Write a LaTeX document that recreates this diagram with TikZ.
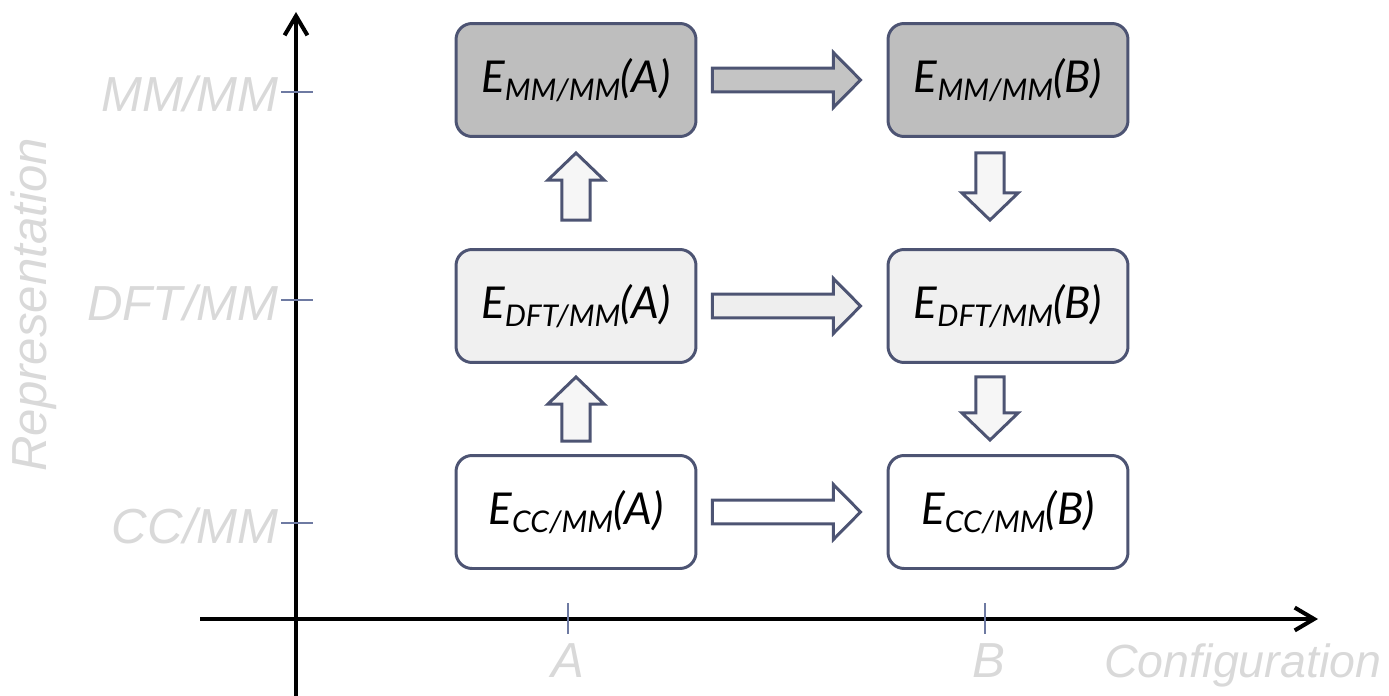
\documentclass[tikz,border=0pt]{standalone}
\usepackage{fontspec}
\setmainfont{Liberation Sans}
\newfontfamily\boxfont{Lato}
\usetikzlibrary{arrows.meta,calc}

\definecolor{edge}{RGB}{77,84,115}
\definecolor{tickc}{RGB}{110,122,162}
\definecolor{axlabel}{RGB}{217,217,217}
\definecolor{fillmm}{RGB}{190,190,190}
\definecolor{filldft}{RGB}{240,240,240}
\definecolor{arrmm}{RGB}{196,196,196}
\definecolor{arrdft}{RGB}{238,238,238}
\definecolor{arrv}{RGB}{246,246,246}

% lowered, smaller subscript for the energy labels
\newcommand\lowsub[1]{\raisebox{-4.5pt}{\fontsize{17}{19}\selectfont #1}}

% block-arrow dimensions: shaft half width, head half width, head length
\def\hsw{6.8pt}\def\hhw{15.6pt}\def\hhl{15.4pt}
\def\vsw{8pt}\def\vhw{16pt}\def\vhl{15.4pt}

% block arrow pointing right, from #1 (tail) to #2 (tip)
\newcommand\blockright[3]{%
  \draw[blk,#3] let \p1=(#1), \p2=(#2) in
    (\x1,\y1-\hsw) -- (\x2-\hhl,\y1-\hsw) -- (\x2-\hhl,\y1-\hhw) -- (\x2,\y1)
    -- (\x2-\hhl,\y1+\hhw) -- (\x2-\hhl,\y1+\hsw) -- (\x1,\y1+\hsw) -- cycle;}
% block arrow pointing up, from #1 (tail) to #2 (tip)
\newcommand\blockup[3]{%
  \draw[blk,#3] let \p1=(#1), \p2=(#2) in
    (\x1-\vsw,\y1) -- (\x1-\vsw,\y2-\vhl) -- (\x1-\vhw,\y2-\vhl) -- (\x1,\y2)
    -- (\x1+\vhw,\y2-\vhl) -- (\x1+\vsw,\y2-\vhl) -- (\x1+\vsw,\y1) -- cycle;}
% block arrow pointing down, from #1 (tail) to #2 (tip)
\newcommand\blockdown[3]{%
  \draw[blk,#3] let \p1=(#1), \p2=(#2) in
    (\x1-\vsw,\y1) -- (\x1-\vsw,\y2+\vhl) -- (\x1-\vhw,\y2+\vhl) -- (\x1,\y2)
    -- (\x1+\vhw,\y2+\vhl) -- (\x1+\vsw,\y2+\vhl) -- (\x1+\vsw,\y1) -- cycle;}

\begin{document}
\begin{tikzpicture}[x=0.02cm,y=-0.02cm,
  energy/.style={draw=edge,line width=1.7pt,rounded corners=0.32cm,
    minimum width=4.8cm,minimum height=2.26cm,inner sep=0pt,
    font=\boxfont\fontsize{25}{29}\selectfont\itshape},
  blk/.style={draw=edge,line width=1.7pt,line join=miter},
  axis/.style={line width=2.3pt,-{Straight Barb[length=11pt,width=13pt]}},
  tickmark/.style={draw=tickc,line width=1.2pt},
  axlab/.style={text=axlabel,font=\fontsize{28}{32}\selectfont\itshape,inner sep=0pt}]

\useasboundingbox (0,0) rectangle (1389,696);

% axes
\coordinate (ybot) at (296,700);
\coordinate (ytop) at (296,12);
\coordinate (xleft) at (200,619);
\coordinate (xright) at (1318,619);
\draw[axis] (ybot) -- (ytop);
\draw[axis] (xleft) -- (xright);

% ticks on the representation axis
\draw[tickmark] (281,92) -- (313,92);
\draw[tickmark] (281,300) -- (313,300);
\draw[tickmark] (281,523) -- (313,523);
% ticks on the configuration axis
\draw[tickmark] (568,603) -- (568,634);
\draw[tickmark] (985,603) -- (985,634);

% axis labels
\node[axlab,anchor=base east] (lmm) at (279,112) {MM/MM};
\node[axlab,anchor=base east] (ldft) at (279,320) {DFT/MM};
\node[axlab,anchor=base east] (lcc) at (279,543) {CC/MM};
\node[axlab,rotate=90] (lrep) at (34,305) {Representation};
\node[axlab,anchor=base] (la) at (568,677) {A};
\node[axlab,anchor=base] (lb) at (989,677) {B};
\node[axlab,anchor=base west,font=\fontsize{26.5}{30}\selectfont\itshape] (lconf) at (1104,677) {Configuration};

% energy boxes
\node[energy,fill=fillmm]  (mmA)  at (576,80)  {E\lowsub{MM/MM}(A)};
\node[energy,fill=fillmm]  (mmB)  at (1008,80) {E\lowsub{MM/MM}(B)};
\node[energy,fill=filldft] (dftA) at (576,306) {E\lowsub{DFT/MM}(A)};
\node[energy,fill=filldft] (dftB) at (1008,306) {E\lowsub{DFT/MM}(B)};
\node[energy,fill=white]   (ccA)  at (576,512) {E\lowsub{CC/MM}(A)};
\node[energy,fill=white]   (ccB)  at (1008,512) {E\lowsub{CC/MM}(B)};

% horizontal block arrows A -> B
\blockright{[xshift=0.3cm]mmA.east}{[xshift=-0.52cm]mmB.west}{fill=arrmm}
\blockright{[xshift=0.3cm]dftA.east}{[xshift=-0.52cm]dftB.west}{fill=arrdft}
\blockright{[xshift=0.3cm]ccA.east}{[xshift=-0.52cm]ccB.west}{fill=white}

% vertical block arrows
\blockup{[yshift=0.26cm]ccA.north}{[yshift=-0.26cm]dftA.south}{fill=arrv}
\blockup{[yshift=0.56cm]dftA.north}{[yshift=-0.3cm]mmA.south}{fill=arrv}
\blockdown{[xshift=-0.36cm,yshift=-0.3cm]mmB.south}{[xshift=-0.36cm,yshift=0.56cm]dftB.north}{fill=arrv}
\blockdown{[xshift=-0.36cm,yshift=-0.26cm]dftB.south}{[xshift=-0.36cm,yshift=0.28cm]ccB.north}{fill=arrv}

\end{tikzpicture}
\end{document}
